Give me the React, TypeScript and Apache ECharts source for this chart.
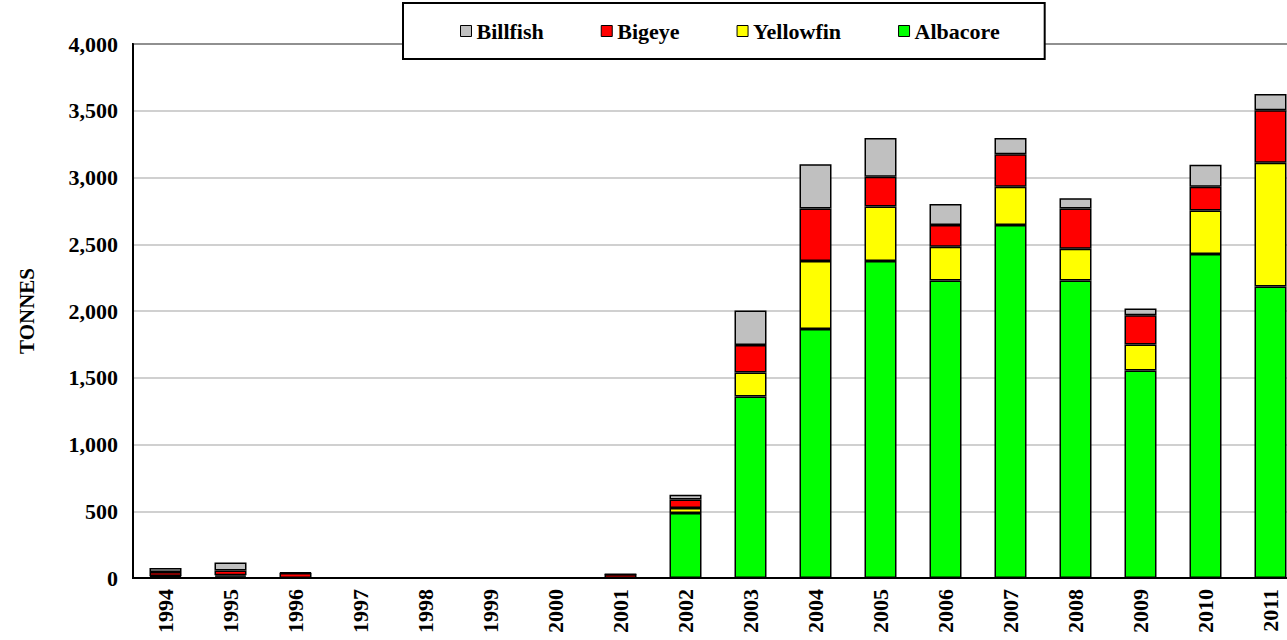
import React, { useEffect, useRef } from "react";
import * as echarts from "echarts";

const years = ["1994","1995","1996","1997","1998","1999","2000","2001","2002","2003","2004","2005","2006","2007","2008","2009","2010","2011"];
const albacore = [10, 10, 0, 0, 0, 0, 0, 0, 487, 1359, 1866, 2375, 2228, 2644, 2228, 1554, 2427, 2183];
const yellowfin = [5, 10, 0, 0, 0, 0, 0, 0, 37, 180, 509, 407, 254, 287, 239, 195, 325, 928];
const bigeye = [30, 37, 37, 0, 0, 0, 0, 28, 64, 207, 392, 224, 163, 243, 300, 220, 179, 392];
const billfish = [30, 60, 5, 0, 0, 0, 0, 2, 35, 257, 332, 290, 157, 122, 77, 49, 165, 122];
const legendOrder = ["Billfish", "Bigeye", "Yellowfin", "Albacore"];

const FONT = "'Liberation Serif', 'Times New Roman', serif";

export default function App() {
  const ref = useRef<HTMLDivElement>(null);
  useEffect(() => {
    if (!ref.current) return;
    const chart = echarts.init(ref.current, undefined, { renderer: "svg" });
    const mk = (name: string, data: number[], color: string) => ({
      name,
      type: "bar",
      stack: "total",
      data,
      barWidth: 32,
      itemStyle: { color, borderColor: "#000", borderWidth: 1.5 },
    });
    chart.setOption({
      animation: false,
      textStyle: { fontFamily: FONT },
      grid: {
        left: 133,
        top: 44,
        bottom: 62,
        width: 1170,
        show: true,
        borderColor: "#000",
        borderWidth: 2,
        backgroundColor: "transparent",
      },
      legend: {
        data: legendOrder,
        left: 403,
        top: 3,
        padding: [17, 45, 17, 57],
        itemGap: 57,
        itemWidth: 11,
        itemHeight: 11,
        icon: "rect",
        backgroundColor: "#fff",
        borderColor: "#000",
        borderWidth: 2,
        itemStyle: { borderColor: "#000", borderWidth: 1 },
        textStyle: { fontFamily: FONT, fontWeight: "bold", fontSize: 22, color: "#000" },
        z: 10,
      },
      xAxis: {
        type: "category",
        data: years,
        axisLine: { lineStyle: { color: "#000", width: 2 } },
        axisTick: { show: false },
        axisLabel: {
          rotate: 90,
          margin: 11,
          fontFamily: FONT,
          fontWeight: "bold",
          fontSize: 22,
          color: "#000",
        },
      },
      yAxis: {
        type: "value",
        min: 0,
        max: 4000,
        interval: 500,
        name: "TONNES",
        nameLocation: "middle",
        nameRotate: 90,
        nameGap: 96,
        nameTextStyle: { fontFamily: FONT, fontWeight: "bold", fontSize: 21, color: "#000" },
        axisLine: { show: true, lineStyle: { color: "#000", width: 2 } },
        axisTick: { show: false },
        splitLine: { lineStyle: { color: "#c0c0c0", width: 1.5 } },
        axisLabel: {
          margin: 15,
          fontFamily: FONT,
          fontWeight: "bold",
          fontSize: 22,
          color: "#000",
          formatter: (v: number) => v.toLocaleString("en-US"),
        },
      },
      series: [
        mk("Albacore", albacore, "#00ff00"),
        mk("Yellowfin", yellowfin, "#ffff00"),
        mk("Bigeye", bigeye, "#ff0000"),
        mk("Billfish", billfish, "#c0c0c0"),
      ],
    });
    return () => chart.dispose();
  }, []);
  return (
    <div
      ref={ref}
      style={{ position: "fixed", left: 0, top: 0, width: 1303, height: 640, background: "#fff" }}
    />
  );
}
